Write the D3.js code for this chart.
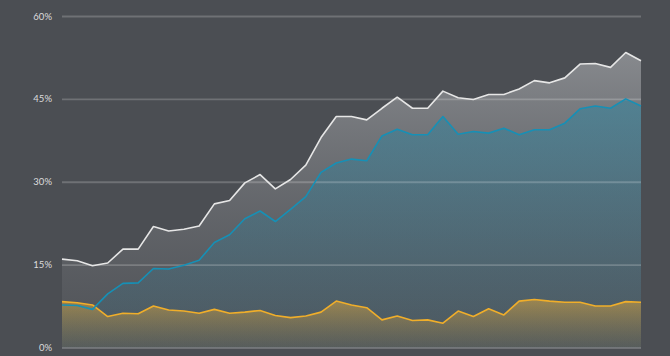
<!DOCTYPE html>
<html><head><meta charset="utf-8">
<script src="https://cdn.jsdelivr.net/npm/d3@7"></script>
<style>body{margin:0;background:#4b4e53;}svg{display:block;}</style>
</head><body>
<svg id="c" width="670" height="356"></svg>
<script>
const yTicks = [0, 15, 30, 45, 60];
const tickLabels = ["0%", "15%", "30%", "45%", "60%"];
const totalSeries = [16.0,15.7,14.8,15.3,17.8,17.8,21.9,21.1,21.4,22.0,26.0,26.6,29.8,31.3,28.7,30.4,33.0,38.0,41.8,41.8,41.2,43.3,45.3,43.3,43.3,46.4,45.2,44.9,45.8,45.8,46.8,48.3,47.9,48.8,51.3,51.4,50.7,53.4,51.9];
const blueSeries = [7.7,7.6,6.9,9.7,11.6,11.7,14.3,14.2,14.9,15.8,19.0,20.4,23.3,24.7,22.8,25.0,27.3,31.7,33.4,34.1,33.8,38.3,39.5,38.5,38.5,41.8,38.6,39.1,38.8,39.7,38.5,39.4,39.4,40.6,43.2,43.7,43.3,45.0,43.7];
const orangeSeries = [8.3,8.1,7.7,5.6,6.2,6.1,7.5,6.8,6.6,6.2,6.9,6.2,6.4,6.7,5.8,5.4,5.7,6.4,8.4,7.7,7.2,5.0,5.7,4.9,5.0,4.4,6.6,5.6,7.0,5.9,8.4,8.7,8.4,8.2,8.2,7.5,7.5,8.3,8.2];

const svg = d3.select("#c");
const L = 62, R = 641, T = 16, B = 347.5;
const x = d3.scaleLinear().domain([0, totalSeries.length - 1]).range([L, R]);
const y = d3.scaleLinear().domain([0, 60]).range([B, T]);

const defs = svg.append("defs");
function grad(id, c1, o1, c2, o2) {
  const g = defs.append("linearGradient").attr("id", id).attr("x1", 0).attr("y1", 0).attr("x2", 0).attr("y2", 1);
  g.append("stop").attr("offset", "0%").attr("stop-color", c1).attr("stop-opacity", o1);
  g.append("stop").attr("offset", "100%").attr("stop-color", c2).attr("stop-opacity", o2);
}
grad("gW", "#c8cacd", 0.48, "#7a7c80", 0.12);
grad("gB", "#1f86a6", 0.45, "#2a7fa0", 0.1);
grad("gO", "#dba63d", 0.55, "#b08a40", 0.1);

const series = [
  {data: totalSeries, fill: "url(#gW)", stroke: "#e6e6e6"},
  {data: blueSeries, fill: "url(#gB)", stroke: "#1690b6"},
  {data: orangeSeries, fill: "url(#gO)", stroke: "#f0ae2a"}
];

const area = d3.area().x((d, i) => x(i)).y0(y(0)).y1(d => y(d));
const line = d3.line().x((d, i) => x(i)).y(d => y(d));

series.forEach(s => {
  svg.append("path").datum(s.data).attr("d", area).attr("fill", s.fill);
});

const axis = d3.axisLeft(y).tickValues(yTicks).tickFormat((d, i) => tickLabels[i]).tickSize(-(R - L)).tickPadding(10);
const g = svg.append("g").attr("transform", `translate(${L},0)`).call(axis);
g.select(".domain").remove();
g.selectAll(".tick line").attr("stroke", "#ffffff").attr("stroke-opacity", 0.2).attr("stroke-width", 1.8);
g.selectAll(".tick text").attr("fill", "#dcdcdc").style("font-family", "Lato, 'Open Sans', sans-serif").style("font-size", "9.5px");

series.slice().reverse().forEach(s => {
  svg.append("path").datum(s.data).attr("d", line).attr("fill", "none")
    .attr("stroke", s.stroke).attr("stroke-width", 1.6).attr("stroke-linejoin", "round");
});
</script>
</body></html>
